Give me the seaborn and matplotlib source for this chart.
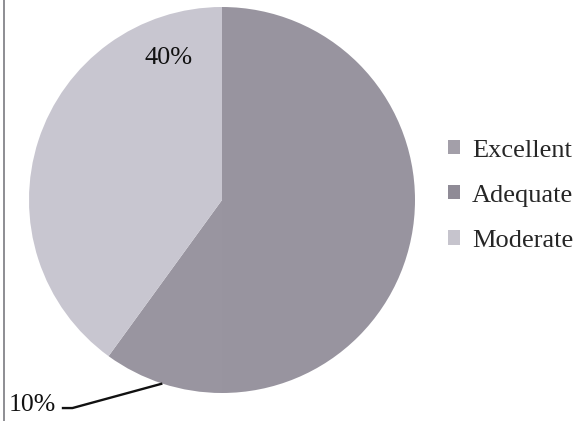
import numpy as np
import seaborn as sns
import matplotlib.pyplot as plt
from matplotlib.patches import Patch
from matplotlib.lines import Line2D

# === DADOS ===
categorias = ["Excellent", "Adequate", "Moderate"]
percentuais = [10, 50, 40]
rotulos = ["10%", "", "40%"]
cores_legenda = ["#a39fa9", "#8f8b96", "#c6c4cd"]
cores_pizza = ["#9995a0", "#98949f", "#c8c6d0"]

# ordem de desenho: Adequate a partir do topo, sentido horário
ordem = [1, 0, 2]

sns.set_theme(style="white")
plt.rcParams["font.family"] = ["Liberation Serif", "DejaVu Serif"]

fig = plt.figure(figsize=(5.77, 4.21), dpi=100)
ax = fig.add_axes([29 / 577, 28 / 421, 386 / 577, 386 / 421])

fatias, _ = ax.pie(
    [percentuais[i] for i in ordem],
    colors=[cores_pizza[i] for i in ordem],
    startangle=90,
    counterclock=False,
    radius=1,
    wedgeprops=dict(linewidth=0, edgecolor="none"),
)
ax.set_xlim(-1, 1)
ax.set_ylim(-1, 1)
ax.set_aspect("equal")
ax.axis("off")

# rótulo 40% (Moderate) dentro da fatia
ax.text(-0.275, 0.735, rotulos[2], ha="center", va="center", fontsize=19, color="#111111")

# rótulo 10% (Excellent) fora, com linha de ligação
ax.text(-0.985, -1.062, rotulos[0], ha="center", va="center", fontsize=18.5,
        color="#111111", clip_on=False)
w = fatias[1]
ang = np.deg2rad((w.theta1 + w.theta2) / 2)
px, py = 1.0 * np.cos(ang), 1.0 * np.sin(ang)
ax.plot([-0.83, -0.775, px], [-1.078, -1.078, py], color="#111111", lw=1.7,
        clip_on=False, solid_capstyle="butt")

# legenda
handles = [Patch(facecolor=c, edgecolor="none") for c in cores_legenda]
fig.legend(
    handles, categorias, loc="center left", bbox_to_anchor=(0.777, 0.535),
    frameon=False, fontsize=19, handlelength=0.45, handleheight=0.45,
    handletextpad=0.45, labelspacing=0.88, borderpad=0, borderaxespad=0,
)

# linha da borda esquerda
fig.add_artist(Line2D([0.007, 0.007], [0, 1], color="#7a7a80", lw=1.2))

fig.savefig("out.png", dpi=100)
